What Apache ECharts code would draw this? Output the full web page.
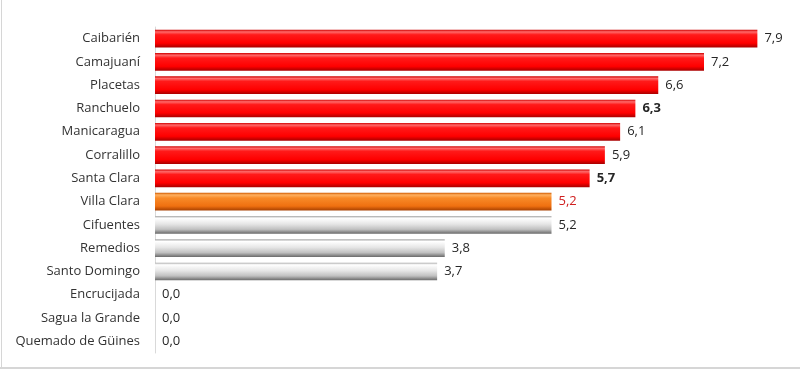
<!DOCTYPE html>
<html><head><meta charset="utf-8">
<script src="https://cdn.jsdelivr.net/npm/echarts@6/dist/echarts.min.js"></script>
<style>html,body{margin:0;padding:0;background:#fff}#c{width:800px;height:370px}</style>
</head><body><div id="c"></div>
<script>
const categories = ['Caibarién','Camajuaní','Placetas','Ranchuelo','Manicaragua','Corralillo','Santa Clara','Villa Clara','Cifuentes','Remedios','Santo Domingo','Encrucijada','Sagua la Grande','Quemado de Güines'];
const values = [7.9,7.2,6.6,6.3,6.1,5.9,5.7,5.2,5.2,3.8,3.7,0.0,0.0,0.0];
const provinceName = 'Villa Clara';
const boldLabels = ['Ranchuelo','Santa Clara'];

const provVal = values[categories.indexOf(provinceName)];
function grad(stops){return {type:'linear',x:0,y:0,x2:0,y2:1,colorStops:stops.map(s=>({offset:s[0],color:s[1]}))};}
const redG = grad([[0,'#d00000'],[0.12,'#ff6a6a'],[0.28,'#ff1a1a'],[0.75,'#ff0000'],[1,'#a80000']]);
const oraG = grad([[0,'#d05a00'],[0.12,'#ffb060'],[0.3,'#f88a28'],[0.75,'#f07010'],[1,'#a84000']]);
const grayG = grad([[0,'#a8a8a8'],[0.12,'#ffffff'],[0.45,'#e6e6e6'],[0.75,'#c0c0c0'],[1,'#686868']]);

const data = values.map((v,i)=>{
  const name = categories[i];
  let color = v > provVal ? redG : grayG;
  if (name === provinceName) color = oraG;
  return {
    value: v,
    itemStyle:{color: color},
    label:{
      fontWeight: boldLabels.includes(name) ? 'bold' : 'normal',
      color: name === provinceName ? '#d02020' : '#262626'
    }
  };
});

const chart = echarts.init(document.getElementById('c'));
chart.setOption({
  animation:false,
  grid:{left:155,right:35,top:27,bottom:17,containLabel:false},
  graphic:[
    {type:'line',shape:{x1:1.5,y1:0,x2:1.5,y2:369},style:{stroke:'#d6d6d6',lineWidth:1},silent:true},
    {type:'line',shape:{x1:0,y1:368,x2:800,y2:368},style:{stroke:'#d6d6d6',lineWidth:2},silent:true}
  ],
  xAxis:{type:'value',min:0,max:8,show:false,splitLine:{show:false}},
  yAxis:{type:'category',data:categories,inverse:true,
    axisLine:{show:true,lineStyle:{color:'#d9d9d9',width:1}},
    axisTick:{show:false},
    axisLabel:{margin:15,fontFamily:'Open Sans',fontSize:13,color:'#333333'}},
  series:[{type:'bar',data:data,barCategoryGap:'24%',
    label:{show:true,position:'right',distance:7,fontFamily:'Open Sans',fontSize:13,
      formatter:p=>p.value.toFixed(1).replace('.',',')}}]
});
</script></body></html>
